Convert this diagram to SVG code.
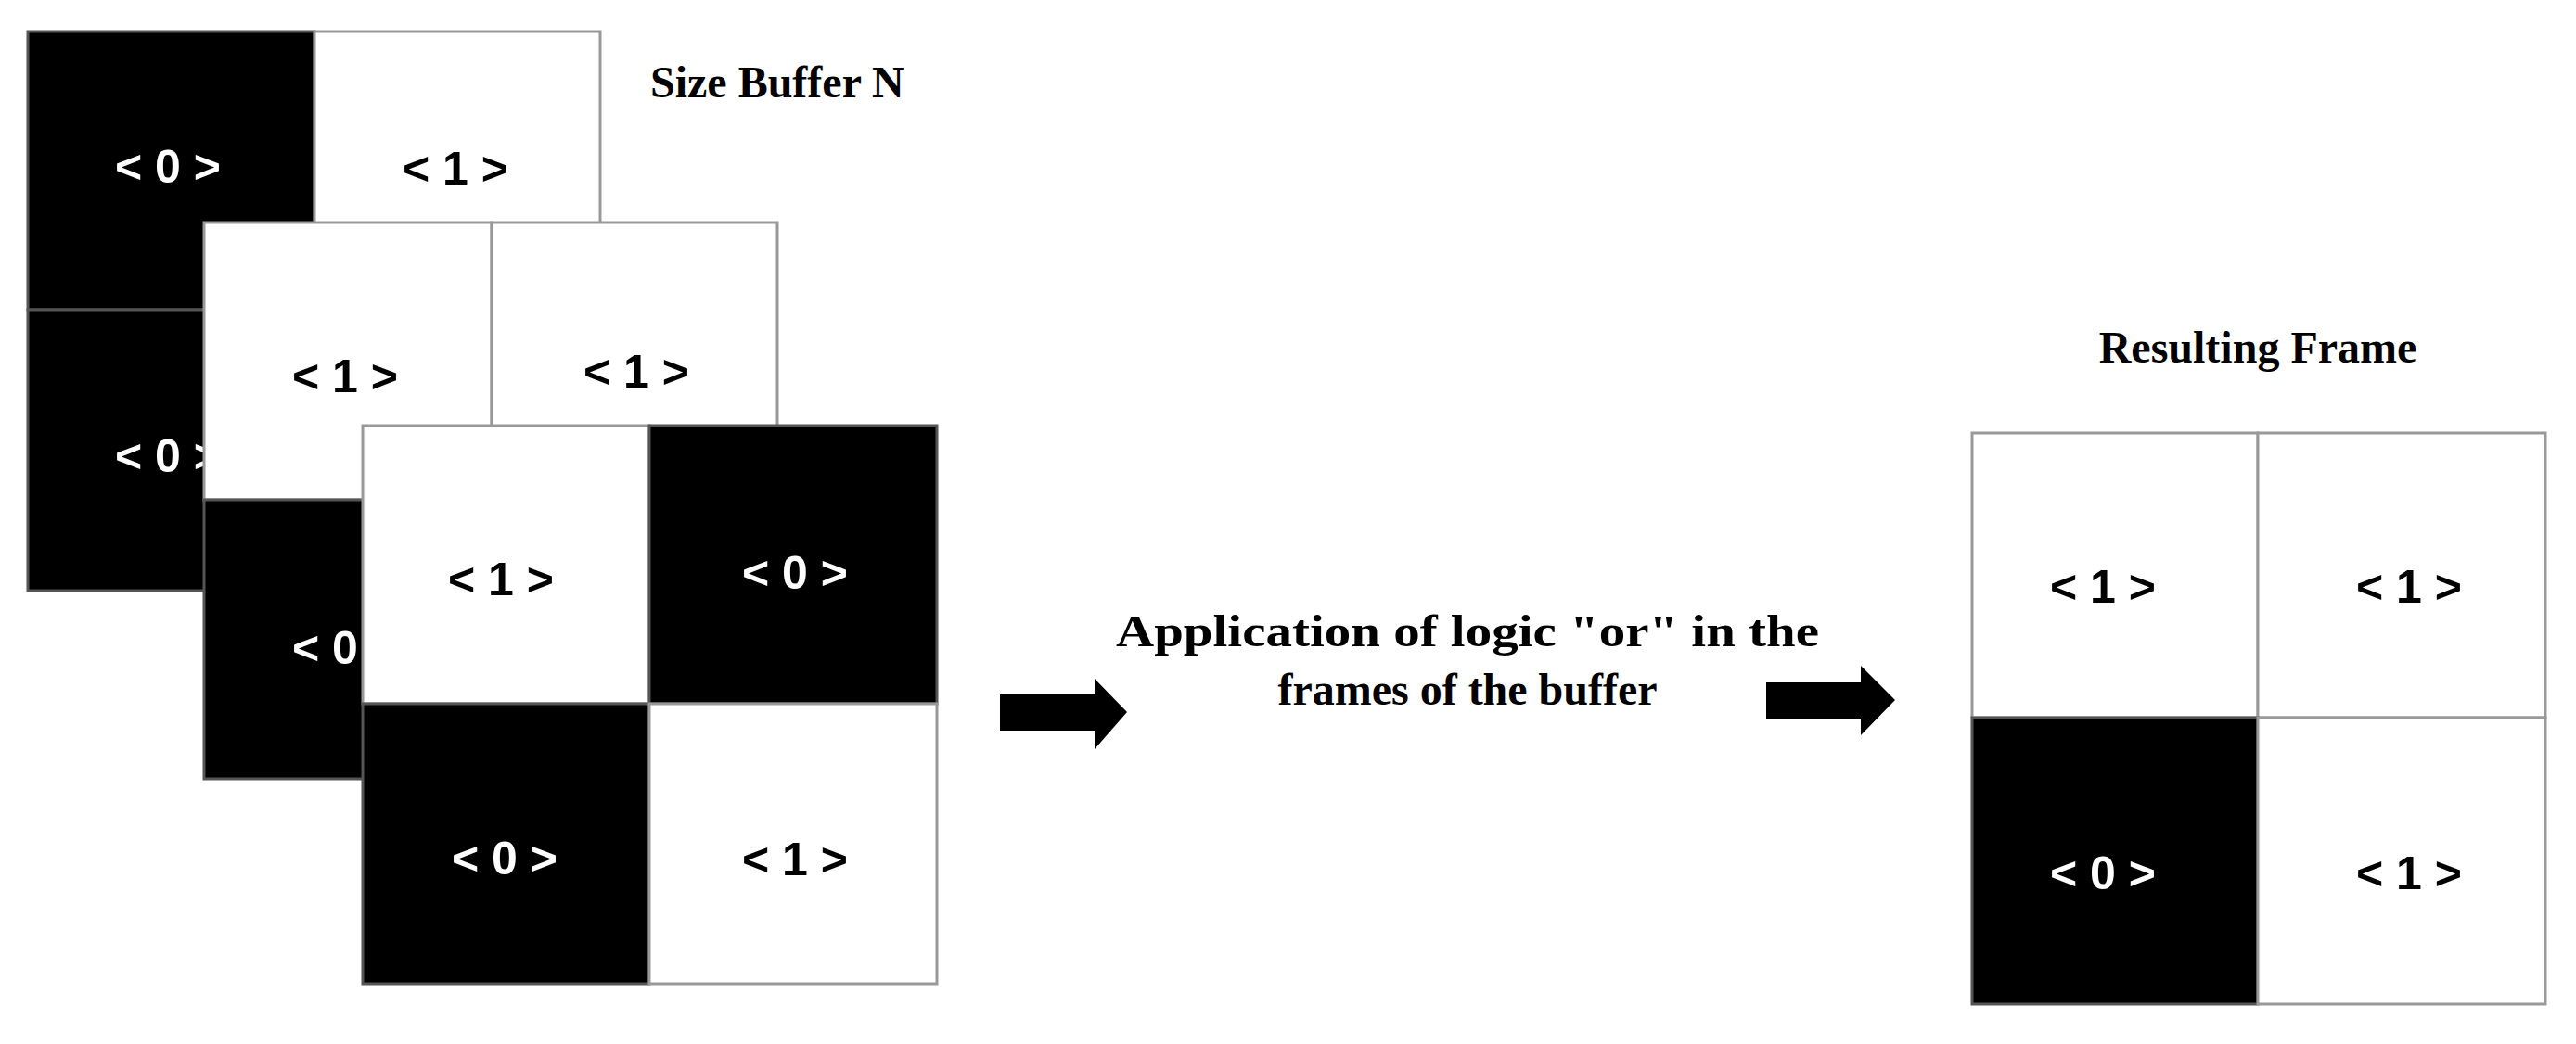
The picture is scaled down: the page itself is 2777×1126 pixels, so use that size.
<svg xmlns="http://www.w3.org/2000/svg" width="2777" height="1126" viewBox="0 0 2777 1126">
<style>
.w{fill:#fff;stroke:#999;stroke-width:3}
.b{fill:#000;stroke:#555;stroke-width:3}
.lb{font-family:"Liberation Sans",Arial,sans-serif;font-weight:bold;font-size:50px;text-anchor:middle}
.tw{fill:#fff}.tb{fill:#000}
.ttl{font-family:"Liberation Serif","Times New Roman",serif;font-weight:bold;font-size:48px;fill:#000}
</style>
<rect width="2777" height="1126" fill="#fff"/>
<g id="frame1">
<rect class="b" x="30" y="34" width="309" height="300"/>
<rect class="w" x="339" y="34" width="308" height="300"/>
<rect class="b" x="30" y="334" width="309" height="303"/>
<rect class="w" x="339" y="334" width="308" height="303"/>
<text class="lb tw" x="181" y="197">&lt; 0 &gt;</text>
<text class="lb tb" x="491" y="199">&lt; 1 &gt;</text>
<text class="lb tw" x="181" y="509">&lt; 0 &gt;</text>
</g>
<g id="frame2">
<rect class="w" x="220" y="240" width="310" height="299"/>
<rect class="w" x="530" y="240" width="308" height="299"/>
<rect class="b" x="220" y="539" width="310" height="301"/>
<rect class="w" x="530" y="539" width="308" height="301"/>
<text class="lb tb" x="372" y="423">&lt; 1 &gt;</text>
<text class="lb tb" x="686" y="418">&lt; 1 &gt;</text>
<text class="lb tw" x="372" y="716">&lt; 0 &gt;</text>
</g>
<g id="frame3">
<rect class="w" x="391" y="459" width="309" height="300"/>
<rect class="b" x="700" y="459" width="310" height="300"/>
<rect class="b" x="391" y="759" width="309" height="302"/>
<rect class="w" x="700" y="759" width="310" height="302"/>
<text class="lb tb" x="540" y="642">&lt; 1 &gt;</text>
<text class="lb tw" x="857" y="635">&lt; 0 &gt;</text>
<text class="lb tw" x="544" y="943">&lt; 0 &gt;</text>
<text class="lb tb" x="857" y="944">&lt; 1 &gt;</text>
</g>
<g id="label-size"><text class="ttl" x="701" y="105">Size Buffer N</text></g>
<g id="label-op"><text class="ttl" x="1582" y="697" text-anchor="middle" textLength="758" lengthAdjust="spacingAndGlyphs">Application of logic "or" in the</text>
<text class="ttl" x="1582" y="760" text-anchor="middle">frames of the buffer</text></g>
<g id="resulting">
<text class="ttl" x="2434" y="391" text-anchor="middle">Resulting Frame</text>
<rect class="w" x="2126" y="467" width="308" height="307"/>
<rect class="w" x="2434" y="467" width="310" height="307"/>
<rect class="b" x="2126" y="774" width="308" height="309"/>
<rect class="w" x="2434" y="774" width="310" height="309"/>
<text class="lb tb" x="2267" y="650">&lt; 1 &gt;</text>
<text class="lb tb" x="2597" y="650">&lt; 1 &gt;</text>
<text class="lb tw" x="2267" y="959">&lt; 0 &gt;</text>
<text class="lb tb" x="2597" y="959">&lt; 1 &gt;</text>
</g>
<g id="connectors">
<polygon points="1078,749 1180,749 1180,732 1215,768 1180,808 1180,788 1078,788" fill="#000"/>
<polygon points="1904,736 2006,736 2006,718 2043,755 2006,793 2006,775 1904,775" fill="#000"/>
</g>
</svg>
